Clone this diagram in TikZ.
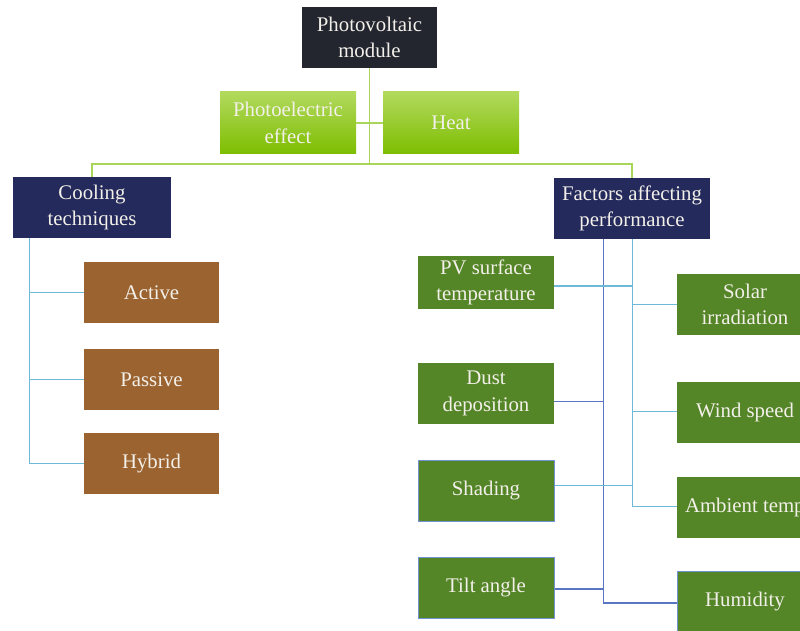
\documentclass[tikz,border=0pt]{standalone}
\usepackage{fontspec}
\setmainfont{Liberation Serif}
\usepackage{tikz}
\usetikzlibrary{positioning}
\definecolor{pvdark}{HTML}{23262F}
\definecolor{navy}{HTML}{242A5B}
\definecolor{rust}{HTML}{9B6330}
\definecolor{leaf}{HTML}{548527}
\definecolor{limetop}{HTML}{B2D95E}
\definecolor{limebot}{HTML}{7DBE00}
\definecolor{limeline}{HTML}{A9D55A}
\definecolor{skyline}{HTML}{6CBAD8}
\definecolor{deepline}{HTML}{5A75C2}
\definecolor{boxedge}{HTML}{7293D2}
\definecolor{paper}{HTML}{F3F0EA}

\begin{document}
\begin{tikzpicture}[x=1pt,y=-1pt,
  box/.style={inner sep=0pt,minimum width=136pt,minimum height=61pt,text=paper,align=center,
    font=\fontsize{20.8}{26.5}\selectfont},
  topbox/.style={box,fill=pvdark,minimum width=135pt},
  headbox/.style={box,fill=navy},
  limebox/.style={box,top color=limetop,bottom color=limebot,minimum height=62pt},
  rustbox/.style={box,fill=rust,minimum width=135pt},
  leafbox/.style={box,fill=leaf},
  edgebox/.style={leafbox,draw=boxedge,line width=1pt},
  lime/.style={limeline,line width=1.3pt},
  sky/.style={skyline,line width=1.3pt},
  deep/.style={deepline,line width=1.3pt}]
\clip (0,0) rectangle (800,631);
% top of the tree
\node[topbox] (pv) at (369.5,37.5) {Photovoltaic\\module};
\node[limebox] (pe) at (288,123) {Photoelectric\\effect};
\node[limebox] (heat) at (451,123) {Heat};
\node[headbox,minimum width=158pt] (cool) at (92,207.5) {Cooling\\techniques};
\node[headbox,minimum width=156pt] (fac) at (632,208.5) {Factors affecting\\performance};
\coordinate (bus) at (369.5,164);
\draw[lime] (pv.south) -- (bus);
\draw[lime] (pe.east) -- (heat.west);
\draw[lime] (cool.north) -- (cool.north |- bus) -- (fac.north |- bus) -- (fac.north);
% cooling techniques
\node[rustbox] (act) at (151.5,292.5) {Active};
\node[rustbox] (pas) at (151.5,379.5) {Passive};
\node[rustbox] (hyb) at (151.5,463.5) {Hybrid};
\coordinate (ctrunk) at (29.5,238);
\draw[sky] (ctrunk) |- (hyb.west);
\draw[sky] (ctrunk |- act.west) -- (act.west);
\draw[sky] (ctrunk |- pas.west) -- (pas.west);
% factors, left column
\node[leafbox,minimum height=53pt] (pvt) at (486,282.5) {PV surface\\temperature};
\node[leafbox] (dust) at (486,393.5) {Dust\\deposition};
\node[edgebox] (shad) at (486,490.5) {Shading};
\node[edgebox] (tilt) at (486,587.5) {Tilt angle};
% factors, right column
\node[leafbox] (sol) at (745,304.5) {Solar\\irradiation};
\node[leafbox] (wind) at (745,412.5) {Wind speed};
\node[leafbox] (amb) at (745,507.5) {\makebox[120pt][l]{Ambient temperature}};
\node[edgebox] (hum) at (745,601.5) {Humidity};
% two trunks under the factors box
\coordinate (dtrunk) at (603.5,239);
\coordinate (strunk) at (632.5,239);
\draw[deep] (dtrunk) |- ([yshift=-1.5pt]hum.west);
\draw[deep] ([yshift=-8pt]dust.east) -- ([yshift=-8pt]dust.east -| dtrunk);
\draw[deep] ([yshift=-1.5pt]tilt.east) -- ([yshift=-1.5pt]tilt.east -| dtrunk);
\draw[sky] (strunk) |- ([yshift=0.8pt]amb.west);
\draw[sky] ([yshift=-3.5pt]pvt.east) -- ([yshift=-3.5pt]pvt.east -| strunk);
\draw[sky] ([yshift=4.8pt]shad.east) -- ([yshift=4.8pt]shad.east -| strunk);
\draw[sky] (sol.west) -- (sol.west -| strunk);
\draw[sky] ([yshift=0.8pt]wind.west) -- ([yshift=0.8pt]wind.west -| strunk);
\end{tikzpicture}
\end{document}
